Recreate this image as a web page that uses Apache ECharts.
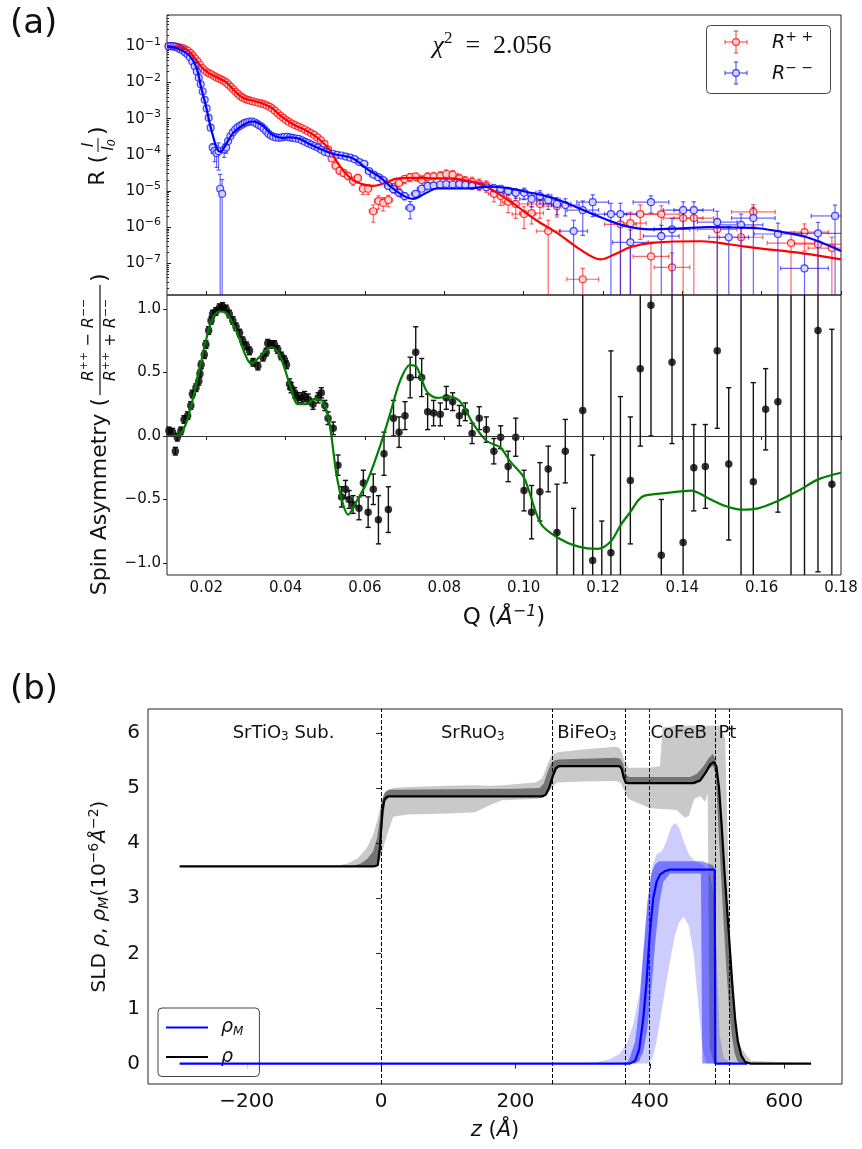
<!DOCTYPE html>
<html>
<head>
<meta charset="utf-8">
<title>PNR fit and SLD profile</title>
<script src="https://cdn.jsdelivr.net/npm/echarts@6.0.0/dist/echarts.min.js"></script>
<style>
  html, body { margin: 0; padding: 0; background: #fff; }
  #chart { width: 862px; height: 1149px; }
</style>
</head>
<body>
<div id="chart"></div>
<script>
const FONT = 'DejaVu Sans';
const SERIF = 'Liberation Serif';
const MINUS = '\u2212';

// ---------- axis ranges and ticks ----------
const qRange = [0.0101, 0.18];
const rRange = [1.33e-8, 0.733];
const saRange = [-1.095, 1.11];
const zRange = [-347, 686];
const sldRange = [-0.37, 6.435];
const qTicks = [0.02, 0.04, 0.06, 0.08, 0.10, 0.12, 0.14, 0.16, 0.18];
const rTicks = [1e-7, 1e-6, 1e-5, 1e-4, 1e-3, 1e-2, 1e-1];
const saTicks = [-1.0, -0.5, 0.0, 0.5, 1.0];
const zTicks = [-200, 0, 200, 400, 600];
const sldTicks = [0, 1, 2, 3, 4, 5, 6];

// ---------- (a) reflectivity: [Q, R, relative error, dQ] ----------
const rPlusPlus = [
  [0.0105,1.02e-1,0.03,0.0003],[0.0112,1.00e-1,0.03,0.0003],[0.0118,1.00e-1,0.03,0.0003],[0.0124,9.77e-2,0.03,0.0003],
  [0.0130,9.55e-2,0.03,0.0003],[0.0136,9.12e-2,0.03,0.0003],[0.0142,8.71e-2,0.03,0.0003],[0.0148,8.13e-2,0.03,0.0003],
  [0.0154,7.41e-2,0.03,0.0003],[0.0160,6.46e-2,0.03,0.0003],[0.0166,5.50e-2,0.03,0.0003],[0.0172,4.57e-2,0.03,0.0003],
  [0.0178,3.80e-2,0.03,0.0003],[0.0184,3.09e-2,0.03,0.0003],[0.0190,2.51e-2,0.03,0.0003],[0.0196,2.14e-2,0.03,0.0003],
  [0.0202,1.91e-2,0.04,0.0003],[0.0208,1.78e-2,0.04,0.0003],[0.0214,1.66e-2,0.04,0.0003],[0.0220,1.51e-2,0.04,0.0003],
  [0.0226,1.38e-2,0.04,0.0003],[0.0232,1.29e-2,0.04,0.0003],[0.0238,1.20e-2,0.04,0.0003],[0.0244,1.10e-2,0.04,0.0003],
  [0.0250,1.00e-2,0.04,0.0003],[0.0256,8.71e-3,0.05,0.0004],[0.0262,7.59e-3,0.05,0.0004],[0.0268,6.46e-3,0.05,0.0004],
  [0.0274,5.50e-3,0.05,0.0004],[0.0280,4.79e-3,0.05,0.0004],[0.0286,4.17e-3,0.05,0.0004],[0.0292,3.80e-3,0.05,0.0004],
  [0.0298,3.47e-3,0.05,0.0004],[0.0304,3.31e-3,0.05,0.0004],[0.0310,3.16e-3,0.05,0.0004],[0.0317,3.02e-3,0.06,0.0004],
  [0.0324,2.88e-3,0.06,0.0004],[0.0331,2.75e-3,0.06,0.0004],[0.0338,2.63e-3,0.06,0.0004],[0.0345,2.51e-3,0.06,0.0004],
  [0.0352,2.34e-3,0.06,0.0005],[0.0359,2.14e-3,0.06,0.0005],[0.0366,1.91e-3,0.06,0.0005],[0.0373,1.66e-3,0.07,0.0005],
  [0.0380,1.41e-3,0.07,0.0005],[0.0387,1.20e-3,0.07,0.0005],[0.0394,1.05e-3,0.07,0.0005],[0.0401,9.12e-4,0.08,0.0005],
  [0.0408,8.13e-4,0.08,0.0005],[0.0416,7.24e-4,0.08,0.0005],[0.0424,6.61e-4,0.08,0.0006],[0.0432,6.03e-4,0.09,0.0006],
  [0.0440,5.50e-4,0.09,0.0006],[0.0448,5.01e-4,0.09,0.0006],[0.0456,4.47e-4,0.10,0.0006],[0.0464,3.98e-4,0.10,0.0006],
  [0.0472,3.55e-4,0.10,0.0006],[0.0480,3.02e-4,0.11,0.0007],[0.0489,2.51e-4,0.11,0.0007],[0.0498,2.00e-4,0.12,0.0007],
  [0.0507,1.41e-4,0.13,0.0007],[0.0516,7.94e-5,0.15,0.0007],[0.0526,5.01e-5,0.18,0.0008],[0.0536,3.63e-5,0.20,0.0008],
  [0.0546,3.16e-5,0.20,0.0008],[0.0557,2.63e-5,0.22,0.0008],[0.0570,1.91e-5,0.25,0.0009],[0.0582,2.29e-5,0.25,0.0009],
  [0.0595,1.15e-5,0.30,0.0009],[0.0608,1.15e-5,0.30,0.0009],[0.0621,2.75e-6,0.50,0.0010],[0.0634,5.25e-6,0.40,0.0010],
  [0.0646,4.68e-6,0.40,0.0010],[0.0659,5.62e-6,0.35,0.0010],[0.0672,1.26e-5,0.30,0.0010],[0.0686,1.66e-5,0.30,0.0010],
  [0.0700,2.14e-5,0.25,0.0011],[0.0714,2.40e-5,0.25,0.0011],[0.0728,2.51e-5,0.25,0.0011],[0.0743,2.00e-5,0.30,0.0011],
  [0.0758,2.45e-5,0.30,0.0012],[0.0773,2.51e-5,0.30,0.0012],[0.0790,2.63e-5,0.30,0.0012],[0.0805,2.95e-5,0.30,0.0012],
  [0.0821,2.82e-5,0.30,0.0013],[0.0838,2.24e-5,0.30,0.0013],[0.0853,1.91e-5,0.30,0.0013],[0.0870,1.78e-5,0.35,0.0013],
  [0.0888,1.58e-5,0.35,0.0014],[0.0906,1.41e-5,0.35,0.0014],[0.0925,8.32e-6,0.40,0.0014],[0.0942,7.24e-6,0.45,0.0015],
  [0.0961,5.01e-6,0.50,0.0015],
  [0.0980,4.37e-6,0.6,0.003],[0.1001,2.29e-6,0.6,0.003],[0.1020,2.45e-6,0.5,0.003],[0.1041,4.37e-6,0.6,0.003],
  [0.1062,7.76e-7,1.0,0.003],[0.1084,3.80e-6,0.5,0.0035],[0.1149,3.63e-8,1.0,0.004],[0.1244,1.20e-6,1.0,0.004],
  [0.1269,1.29e-6,1.0,0.004],[0.1294,2.29e-6,0.8,0.0045],[0.1321,1.55e-7,1.5,0.0045],[0.1347,2.29e-6,0.7,0.0045],
  [0.1374,7.76e-8,1.5,0.0045],[0.1402,1.78e-6,1.0,0.005],[0.1429,1.78e-6,1.0,0.005],[0.1488,8.71e-7,1.0,0.005],
  [0.1548,5.25e-7,1.2,0.0055],[0.1579,2.63e-6,0.6,0.0055],[0.1674,3.63e-7,1.0,0.006],[0.1708,7.24e-7,0.7,0.006],
  [0.1742,3.39e-7,1.0,0.006],[0.1777,2.63e-7,1.0,0.006]
];

const rMinusMinus = [
  [0.0105,1.00e-1,0.03,0.0003],[0.0111,1.02e-1,0.03,0.0003],[0.0117,1.00e-1,0.03,0.0003],[0.0123,9.55e-2,0.03,0.0003],
  [0.0129,8.91e-2,0.03,0.0003],[0.0135,8.32e-2,0.03,0.0003],[0.0141,7.59e-2,0.03,0.0003],[0.0147,6.76e-2,0.03,0.0003],
  [0.0153,6.03e-2,0.03,0.0003],[0.0159,5.01e-2,0.03,0.0003],[0.0165,3.80e-2,0.03,0.0003],[0.0171,2.82e-2,0.03,0.0003],
  [0.0176,2.00e-2,0.03,0.0003],[0.0181,1.35e-2,0.04,0.0003],[0.0186,8.91e-3,0.04,0.0003],[0.0191,5.62e-3,0.05,0.0003],
  [0.0196,3.31e-3,0.05,0.0003],[0.0201,1.91e-3,0.06,0.0003],[0.0206,1.05e-3,0.08,0.0003],[0.0211,5.62e-4,0.10,0.0003],
  [0.0216,1.58e-4,0.30,0.0003],[0.0221,1.29e-4,0.50,0.0003],[0.0226,1.12e-4,0.60,0.0003],[0.0231,1.26e-4,0.70,0.0003],
  [0.0235,1.15e-5,1.50,0.0003],[0.0240,8.32e-6,1.50,0.0003],[0.0245,1.41e-4,0.40,0.0003],[0.0250,1.58e-4,0.30,0.0003],
  [0.0255,2.40e-4,0.15,0.0004],[0.0261,3.31e-4,0.10,0.0004],[0.0267,4.17e-4,0.08,0.0004],[0.0273,5.01e-4,0.07,0.0004],
  [0.0279,5.75e-4,0.06,0.0004],[0.0285,6.31e-4,0.06,0.0004],[0.0291,6.92e-4,0.06,0.0004],[0.0297,7.59e-4,0.06,0.0004],
  [0.0303,7.94e-4,0.06,0.0004],[0.0309,8.32e-4,0.06,0.0004],[0.0315,8.32e-4,0.06,0.0004],[0.0321,7.94e-4,0.06,0.0004],
  [0.0327,7.24e-4,0.06,0.0004],[0.0333,6.61e-4,0.06,0.0004],[0.0339,6.03e-4,0.06,0.0004],[0.0345,5.25e-4,0.07,0.0005],
  [0.0351,4.47e-4,0.07,0.0005],[0.0357,3.80e-4,0.07,0.0005],[0.0363,3.39e-4,0.07,0.0005],[0.0369,3.16e-4,0.07,0.0005],
  [0.0376,3.02e-4,0.07,0.0005],[0.0383,2.95e-4,0.07,0.0005],[0.0390,3.02e-4,0.07,0.0005],[0.0397,3.16e-4,0.07,0.0005],
  [0.0404,3.16e-4,0.07,0.0005],[0.0411,3.02e-4,0.07,0.0005],[0.0418,2.95e-4,0.08,0.0006],[0.0425,2.82e-4,0.08,0.0006],
  [0.0433,2.75e-4,0.08,0.0006],[0.0441,2.51e-4,0.08,0.0006],[0.0449,2.29e-4,0.08,0.0006],[0.0457,2.09e-4,0.08,0.0006],
  [0.0465,1.91e-4,0.09,0.0006],[0.0473,1.74e-4,0.09,0.0006],[0.0481,1.58e-4,0.09,0.0007],[0.0490,1.38e-4,0.10,0.0007],
  [0.0499,1.20e-4,0.10,0.0007],[0.0508,1.12e-4,0.10,0.0007],[0.0519,1.07e-4,0.10,0.0007],[0.0530,1.00e-4,0.10,0.0008],
  [0.0541,9.55e-5,0.10,0.0008],[0.0552,8.91e-5,0.10,0.0008],[0.0563,8.32e-5,0.11,0.0008],[0.0574,7.59e-5,0.11,0.0009],
  [0.0586,6.31e-5,0.12,0.0009],[0.0598,5.62e-5,0.12,0.0009],[0.0610,3.55e-5,0.13,0.0009],[0.0622,2.82e-5,0.14,0.0010],
  [0.0634,2.40e-5,0.15,0.0010],[0.0646,2.00e-5,0.15,0.0010],[0.0659,1.38e-5,0.18,0.0010],[0.0672,1.12e-5,0.20,0.0010],
  [0.0686,8.91e-6,0.20,0.0010],[0.0700,7.24e-6,0.22,0.0011],[0.0714,3.39e-6,0.50,0.0011],[0.0728,8.32e-6,0.20,0.0011],
  [0.0743,1.15e-5,0.15,0.0011],[0.0758,1.38e-5,0.15,0.0012],[0.0773,1.41e-5,0.15,0.0012],[0.0790,1.51e-5,0.15,0.0012],
  [0.0805,1.55e-5,0.15,0.0012],[0.0821,1.51e-5,0.15,0.0013],[0.0838,1.55e-5,0.15,0.0013],[0.0853,1.48e-5,0.15,0.0013],
  [0.0870,1.38e-5,0.15,0.0013],[0.0888,1.38e-5,0.17,0.0014],[0.0906,1.26e-5,0.18,0.0014],[0.0925,1.20e-5,0.20,0.0014],
  [0.0942,1.15e-5,0.20,0.0015],[0.0961,1.00e-5,0.22,0.0015],
  [0.0980,8.91e-6,0.30,0.003],[0.1001,8.91e-6,0.35,0.003],[0.1020,6.03e-6,0.40,0.003],[0.1041,7.24e-6,0.40,0.003],
  [0.1062,5.62e-6,0.45,0.003],[0.1084,4.37e-6,0.50,0.0035],[0.1105,4.07e-6,0.50,0.0035],[0.1126,7.76e-7,1.0,0.0035],
  [0.1149,2.95e-6,0.80,0.004],[0.1174,4.90e-6,0.60,0.004],[0.1220,2.29e-6,1.0,0.004],[0.1244,2.29e-6,1.0,0.004],
  [0.1269,3.80e-7,1.2,0.0045],[0.1321,4.90e-6,0.50,0.0045],[0.1347,5.62e-7,1.0,0.0045],[0.1374,8.71e-7,1.0,0.0045],
  [0.1402,2.95e-6,0.70,0.005],[0.1429,2.95e-6,0.70,0.005],[0.1488,1.38e-6,1.0,0.005],[0.1517,5.25e-7,1.0,0.005],
  [0.1548,1.15e-6,1.0,0.0055],[0.1579,1.78e-6,1.0,0.0055],[0.1641,6.46e-7,1.0,0.006],[0.1708,7.24e-8,1.5,0.006],
  [0.1742,6.76e-7,1.0,0.006],[0.1785,2.04e-6,1.0,0.006]
];

// model reflectivity curves [Q, R]
const fitPlusPlus = [
  [0.0101,1.00e-1],[0.0124,9.77e-2],[0.0145,8.51e-2],[0.0157,7.08e-2],[0.0175,4.17e-2],[0.0190,2.51e-2],
  [0.0208,1.78e-2],[0.0225,1.41e-2],[0.0240,1.17e-2],[0.0251,1.00e-2],[0.0266,6.76e-3],[0.0291,3.80e-3],
  [0.0316,3.16e-3],[0.0342,2.63e-3],[0.0367,1.91e-3],[0.0385,1.26e-3],[0.0410,7.94e-4],[0.0430,6.03e-4],
  [0.0450,4.79e-4],[0.0470,3.55e-4],[0.0490,2.40e-4],[0.0510,1.41e-4],[0.0530,6.31e-5],[0.0550,3.16e-5],
  [0.0570,2.00e-5],[0.0590,1.58e-5],[0.0620,1.38e-5],[0.0650,1.66e-5],[0.0680,2.19e-5],[0.0720,2.29e-5],
  [0.0770,2.24e-5],[0.0820,2.19e-5],[0.0860,1.91e-5],[0.0900,1.41e-5],[0.0940,7.94e-6],[0.0975,4.37e-6],
  [0.1035,1.48e-6],[0.1086,6.76e-7],[0.1140,2.51e-7],[0.1195,1.29e-7],[0.1230,1.78e-7],[0.1270,2.82e-7],
  [0.1330,3.72e-7],[0.1448,4.07e-7],[0.1520,3.31e-7],[0.1590,2.63e-7],[0.1700,1.91e-7],[0.1800,1.29e-7]
];
const fitMinusMinus = [
  [0.0101,1.00e-1],[0.0132,8.32e-2],[0.0157,5.62e-2],[0.0175,2.63e-2],[0.0187,7.24e-3],[0.0200,2.04e-3],
  [0.0208,7.94e-4],[0.0220,2.51e-4],[0.0228,1.41e-4],[0.0236,1.20e-4],[0.0245,1.58e-4],[0.0266,3.80e-4],
  [0.0291,6.46e-4],[0.0316,8.32e-4],[0.0342,6.46e-4],[0.0367,3.55e-4],[0.0390,2.95e-4],[0.0410,3.02e-4],
  [0.0435,2.75e-4],[0.0460,2.00e-4],[0.0480,1.58e-4],[0.0519,1.07e-4],[0.0570,7.94e-5],[0.0605,4.07e-5],
  [0.0638,2.40e-5],[0.0665,1.32e-5],[0.0700,7.08e-6],[0.0722,6.03e-6],[0.0750,8.32e-6],[0.0782,1.17e-5],
  [0.0850,1.17e-5],[0.0916,1.32e-5],[0.0960,1.20e-5],[0.1018,8.91e-6],[0.1060,7.08e-6],[0.1100,5.01e-6],
  [0.1170,2.40e-6],[0.1250,1.12e-6],[0.1322,8.71e-7],[0.1400,9.33e-7],[0.1466,1.00e-6],[0.1530,9.77e-7],
  [0.1590,9.33e-7],[0.1660,7.08e-7],[0.1720,5.01e-7],[0.1800,2.19e-7]
];

// ---------- spin asymmetry: [Q, SA, error] ----------
const spinAsym = [
  [0.0106,0.04,0.03],[0.0115,0.03,0.03],[0.0122,-0.12,0.03],[0.0127,-0.01,0.03],[0.0136,0.04,0.03],
  [0.0144,0.13,0.03],[0.0153,0.16,0.03],[0.0161,0.24,0.03],[0.0165,0.33,0.03],[0.0174,0.38,0.03],
  [0.0181,0.43,0.03],[0.0184,0.49,0.03],[0.0187,0.56,0.03],[0.0195,0.64,0.03],[0.0199,0.72,0.03],
  [0.0206,0.83,0.03],[0.0212,0.91,0.03],[0.0216,0.96,0.03],[0.0224,0.98,0.03],[0.0233,1.01,0.03],
  [0.0241,1.02,0.03],[0.0250,1.00,0.03],[0.0258,0.96,0.03],[0.0267,0.91,0.03],[0.0275,0.86,0.03],
  [0.0284,0.81,0.03],[0.0292,0.75,0.03],[0.0301,0.71,0.03],[0.0309,0.67,0.03],[0.0318,0.58,0.03],
  [0.0330,0.55,0.03],[0.0343,0.62,0.03],[0.0351,0.66,0.03],[0.0355,0.73,0.03],[0.0364,0.72,0.03],
  [0.0372,0.72,0.03],[0.0380,0.68,0.03],[0.0389,0.63,0.03],[0.0397,0.60,0.03],[0.0402,0.56,0.03],
  [0.0410,0.41,0.04],[0.0414,0.38,0.04],[0.0423,0.34,0.04],[0.0431,0.30,0.04],[0.0440,0.30,0.04],
  [0.0448,0.31,0.04],[0.0457,0.29,0.04],[0.0469,0.25,0.04],[0.0482,0.30,0.04],[0.0490,0.34,0.04],
  [0.0499,0.24,0.04],[0.0507,0.14,0.05],[0.0520,0.06,0.05],[0.0532,-0.23,0.08],[0.0541,-0.48,0.08],
  [0.0551,-0.42,0.07],[0.0560,-0.50,0.07],[0.0570,-0.54,0.07],[0.0585,-0.57,0.09],[0.0596,-0.37,0.10],
  [0.0608,-0.60,0.12],[0.0621,-0.42,0.12],[0.0634,-0.66,0.19],[0.0648,-0.14,0.17],[0.0659,-0.58,0.18],
  [0.0672,0.14,0.14],[0.0686,0.03,0.12],[0.0701,0.16,0.11],[0.0714,0.46,0.16],[0.0728,0.66,0.20],
  [0.0743,0.46,0.15],[0.0758,0.19,0.14],[0.0773,0.18,0.10],[0.0790,0.17,0.09],[0.0805,0.30,0.09],
  [0.0821,0.27,0.07],[0.0838,0.16,0.08],[0.0853,0.19,0.07],[0.0870,0.02,0.08],[0.0888,0.14,0.09],
  [0.0906,0.05,0.10],[0.0925,-0.12,0.10],[0.0942,-0.01,0.09],[0.0961,-0.24,0.12],[0.0980,-0.01,0.15],
  [0.1001,-0.43,0.16],[0.1020,-0.60,0.21],[0.1041,-0.44,0.23],[0.1062,-0.26,0.18],[0.1084,-0.76,0.38],
  [0.1105,-0.12,0.25],[0.1126,-1.25,0.68],[0.1149,0.20,3.0],[0.1174,-0.98,0.83],[0.1197,-1.30,0.63],
  [0.1220,-0.92,1.59],[0.1244,-1.40,1.71],[0.1269,-0.35,0.50],[0.1294,0.53,0.61],[0.1321,1.03,1.03],
  [0.1347,-0.94,0.44],[0.1374,0.58,0.64],[0.1402,-0.84,2.0],[0.1429,-0.25,0.34],[0.1458,-0.24,0.33],
  [0.1488,0.67,0.61],[0.1517,-0.22,0.60],[0.1548,-1.50,3.0],[0.1579,-0.36,0.78],[0.1610,0.21,0.32],
  [0.1641,0.27,0.87],[0.1674,1.50,3.0],[0.1708,-1.50,3.0],[0.1742,0.83,1.90],[0.1777,-0.38,1.22]
];
const spinAsymFit = [
  [0.0101,0.0],[0.0106,0.0],[0.0131,0.01],[0.0148,0.09],[0.0165,0.28],[0.0182,0.51],[0.0199,0.75],
  [0.0216,0.93],[0.0233,0.98],[0.0250,0.97],[0.0275,0.83],[0.0301,0.62],[0.0313,0.57],[0.0334,0.62],
  [0.0364,0.70],[0.0385,0.64],[0.0410,0.41],[0.0431,0.25],[0.0452,0.25],[0.0473,0.29],[0.0494,0.27],
  [0.0511,0.09],[0.0528,-0.30],[0.0545,-0.54],[0.0558,-0.62],[0.0574,-0.54],[0.0604,-0.37],[0.0637,-0.09],
  [0.0663,0.17],[0.0688,0.43],[0.0714,0.56],[0.0731,0.54],[0.0756,0.35],[0.0781,0.30],[0.0815,0.31],
  [0.0840,0.27],[0.0874,0.09],[0.0907,-0.04],[0.0941,-0.09],[0.0966,-0.20],[0.1001,-0.33],[0.1043,-0.69],
  [0.1085,-0.80],[0.1136,-0.87],[0.1187,-0.89],[0.1220,-0.83],[0.1245,-0.70],[0.1271,-0.59],[0.1288,-0.51],
  [0.1305,-0.47],[0.1356,-0.45],[0.1423,-0.43],[0.1465,-0.49],[0.1507,-0.55],[0.1549,-0.58],[0.1591,-0.57],
  [0.1642,-0.51],[0.1693,-0.43],[0.1744,-0.34],[0.1800,-0.29]
];

// ---------- (b) SLD profiles: [z, value] and bands [z, low, high] ----------
const rhoProfile = [
  [-300,3.58],[-10,3.58],[-5,3.6],[-2,3.9],[0,4.25],[2,4.6],[5,4.8],[10,4.85],[240,4.85],[245,4.88],
  [250,5.0],[255,5.2],[260,5.36],[265,5.4],[355,5.4],[358,5.35],[361,5.2],[364,5.1],[368,5.09],[465,5.09],
  [475,5.14],[483,5.28],[490,5.43],[495,5.47],[499,5.4],[503,5.0],[507,4.3],[511,3.5],[515,2.8],[519,2.1],
  [523,1.4],[527,0.8],[531,0.4],[536,0.15],[542,0.03],[550,0],[640,0]
];
const rhoBand68 = [
  [-300,3.58,3.58],[-45,3.58,3.58],[-30,3.58,3.63],[-20,3.58,3.72],[-12,3.58,3.85],[-6,3.6,4.1],
  [-2,3.75,4.45],[0,4.0,4.7],[3,4.45,4.85],[6,4.75,4.93],[12,4.84,4.97],[100,4.85,4.98],[200,4.85,4.99],
  [236,4.85,5.0],[242,4.86,5.08],[248,4.92,5.3],[253,5.05,5.45],[258,5.25,5.5],[264,5.38,5.52],[300,5.40,5.53],
  [350,5.40,5.55],[356,5.36,5.53],[360,5.18,5.45],[364,5.09,5.25],[369,5.08,5.2],[460,5.08,5.2],[470,5.1,5.26],
  [480,5.2,5.4],[488,5.35,5.55],[494,5.4,5.62],[498,5.25,5.5],[502,4.3,5.1],[506,3.4,4.4],[510,2.5,3.6],
  [514,1.7,2.9],[518,1.0,2.2],[522,0.5,1.5],[526,0.2,0.9],[530,0.05,0.45],[535,0,0.17],[542,0,0.04],
  [550,0,0],[640,0,0]
];
const rhoBand95 = [
  [-300,3.58,3.58],[-70,3.58,3.58],[-50,3.58,3.63],[-35,3.58,3.72],[-22,3.58,3.9],[-12,3.58,4.15],
  [-5,3.6,4.45],[0,3.75,4.7],[5,4.0,4.9],[10,4.2,4.97],[18,4.48,5.0],[40,4.52,5.02],[100,4.54,5.04],
  [140,4.56,5.05],[160,4.68,5.04],[180,4.78,5.05],[230,4.8,5.1],[240,4.82,5.18],[248,4.9,5.45],[254,5.0,5.6],
  [262,5.1,5.65],[300,5.12,5.7],[350,5.13,5.75],[356,5.1,5.72],[362,4.95,5.5],[368,4.8,5.37],[400,4.64,5.37],
  [415,4.62,5.4],[419,4.62,6.1],[440,4.6,6.13],[452,4.46,6.13],[458,4.5,6.13],[466,4.8,6.13],[475,4.85,6.13],
  [482,4.75,6.13],[486,4.9,6.13],[489,0.3,6.13],[495,0,6.13],[505,0,6.13],[512,0,5.9],[516,0,4.0],
  [520,0,2.0],[526,0,0.8],[535,0,0.3],[550,0,0.05],[640,0,0]
];
const rhoMProfile = [
  [-300,0],[370,0],[378,0.05],[384,0.25],[390,0.8],[395,1.47],[400,2.37],[405,3.0],[410,3.3],[415,3.43],
  [422,3.49],[430,3.52],[496.5,3.52],[497.5,0],[545,0]
];
const rhoMBand68 = [
  [365,0,0],[370,0,0.1],[378,0,0.4],[384,0.05,1.0],[390,0.2,2.0],[396,0.6,2.9],[402,1.3,3.45],[408,2.2,3.62],
  [414,2.9,3.67],[420,3.3,3.67],[430,3.45,3.67],[476,3.45,3.67],[478,0,3.67],[494,0,3.6],[497,0,3.5],[498,0,0]
];
const rhoMBand95 = [
  [-300,0,0],[300,0,0],[320,0,0.02],[340,0,0.08],[355,0,0.18],[365,0,0.35],[375,0,0.7],[385,0,1.3],
  [392,0,2.2],[398,0,3.0],[404,0.1,3.6],[410,0.4,3.8],[418,1.0,3.85],[425,1.5,4.05],[432,2.0,4.3],
  [437,2.3,4.37],[443,2.55,4.3],[450,2.67,4.05],[458,2.5,3.8],[465,2.0,3.7],[472,1.1,3.65],[478,0.3,3.62],
  [484,0,3.55],[490,0,3.4],[496,0,3.0],[500,0,1.8],[504,0,0.5],[510,0,0.1],[520,0,0.02],[545,0,0]
];
const layerEdges = [0, 255, 363, 498, 518];
const magneticEdge = [399];
const layerNames = [
  { text: 'SrTiO{d|3} Sub.', z: -221 },
  { text: 'SrRuO{d|3}', z: 89 },
  { text: 'BiFeO{d|3}', z: 262 },
  { text: 'CoFeB', z: 401 },
  { text: 'Pt', z: 502 }
];

// ---------- helpers ----------
const supStyle = (size) => ({ fontSize: size, fontFamily: FONT, padding: [0, 0, Math.round(size * 0.8), 0] });
const subStyle = (size) => ({ fontSize: size, fontFamily: FONT, padding: [Math.round(size * 0.7), 0, 0, 0] });

function toErrorRows(rows) {
  return rows.map(([q, r, e, dq]) => [q, r, Math.max(r * (1 - e), 1e-14), r * (1 + e), q - dq, q + dq]);
}

function makeErrorBar(color, width, cap) {
  return function (params, api) {
    const cs = params.coordSys;
    const top = cs.y, bottom = cs.y + cs.height, left = cs.x, right = cs.x + cs.width;
    const x = api.value(0), y = api.value(1);
    const c = api.coord([x, y]);
    const lo = api.coord([x, api.value(2)]);
    const hi = api.coord([x, api.value(3)]);
    const xl = api.coord([api.value(4), y]);
    const xh = api.coord([api.value(5), y]);
    const st = { stroke: color, lineWidth: width };
    const kids = [];
    const inY = (v) => v >= top && v <= bottom;
    const inX = (v) => v >= left && v <= right;
    if (inX(c[0])) {
      const ya = Math.max(top, Math.min(bottom, hi[1]));
      const yb = Math.max(top, Math.min(bottom, lo[1]));
      if (yb - ya > 0.2) {
        kids.push({ type: 'line', shape: { x1: c[0], y1: ya, x2: c[0], y2: yb }, style: st });
      }
      if (inY(hi[1])) kids.push({ type: 'line', shape: { x1: c[0] - cap, y1: hi[1], x2: c[0] + cap, y2: hi[1] }, style: st });
      if (inY(lo[1])) kids.push({ type: 'line', shape: { x1: c[0] - cap, y1: lo[1], x2: c[0] + cap, y2: lo[1] }, style: st });
    }
    if (inY(c[1]) && xh[0] - xl[0] > 0.5) {
      const xa = Math.max(left, xl[0]), xb = Math.min(right, xh[0]);
      kids.push({ type: 'line', shape: { x1: xa, y1: c[1], x2: xb, y2: c[1] }, style: st });
      if (inX(xl[0])) kids.push({ type: 'line', shape: { x1: xl[0], y1: c[1] - cap, x2: xl[0], y2: c[1] + cap }, style: st });
      if (inX(xh[0])) kids.push({ type: 'line', shape: { x1: xh[0], y1: c[1] - cap, x2: xh[0], y2: c[1] + cap }, style: st });
    }
    return { type: 'group', children: kids };
  };
}

function bandSeries(rows, color, z) {
  return {
    type: 'custom', xAxisIndex: 2, yAxisIndex: 3, silent: true, z: z,
    data: [[rows[0][0], rows[0][1]]],
    encode: { x: 0, y: 1 },
    renderItem: function (params, api) {
      const upper = rows.map(r => api.coord([r[0], r[2]]));
      const lower = rows.slice().reverse().map(r => api.coord([r[0], r[1]]));
      return { type: 'polygon', shape: { points: upper.concat(lower) }, style: { fill: color } };
    }
  };
}

const logLabel = (v) => {
  const e = Math.round(Math.log10(v));
  return '{b|10}{s|' + (e < 0 ? MINUS : '') + Math.abs(e) + '}';
};
const signed = (v, d) => (v < 0 ? MINUS : '') + Math.abs(v).toFixed(d);

const minorDecadeTicks = [];
for (let n = -9; n <= 0; n++) {
  for (let k = 2; k <= 9; k++) minorDecadeTicks.push(k * Math.pow(10, n));
}

const frame = { show: true, borderColor: '#222', borderWidth: 1, backgroundColor: 'transparent' };

// ---------- chart ----------
const chart = echarts.init(document.getElementById('chart'), null, { renderer: 'canvas' });

const RED_EDGE = 'rgba(255,0,0,0.75)', RED_FACE = '#ffd2d2', RED_BAR = 'rgba(255,0,0,0.6)';
const BLUE_EDGE = 'rgba(0,0,255,0.7)', BLUE_FACE = '#d2d2ff', BLUE_BAR = 'rgba(0,0,255,0.6)';

const option = {
  animation: false,
  backgroundColor: '#fff',
  textStyle: { fontFamily: FONT },
  grid: [
    Object.assign({ left: 167, top: 15, width: 674, height: 280 }, frame),
    Object.assign({ left: 167, top: 295, width: 674, height: 280 }, frame),
    Object.assign({ left: 148, top: 709, width: 694, height: 375 }, frame)
  ],
  xAxis: [
    {
      type: 'value', gridIndex: 0, min: qRange[0], max: qRange[1],
      axisLine: { show: false }, splitLine: { show: false },
      axisTick: { show: true, inside: true, length: 4, customValues: qTicks, lineStyle: { color: '#222' } },
      axisLabel: { show: false }
    },
    {
      type: 'value', gridIndex: 1, min: qRange[0], max: qRange[1],
      axisLine: { show: false }, splitLine: { show: false },
      axisTick: { show: true, length: 4, customValues: qTicks, lineStyle: { color: '#222' } },
      axisLabel: { customValues: qTicks, formatter: v => v.toFixed(2), fontSize: 15, color: '#111', margin: 6, fontFamily: FONT },
      name: '{n|Q (}{i|Å}{s|' + MINUS + '1}{n|)}', nameLocation: 'middle', nameGap: 29,
      nameTextStyle: {
        rich: {
          n: { fontSize: 23, fontFamily: FONT, color: '#111' },
          i: { fontSize: 23, fontFamily: FONT, fontStyle: 'italic', color: '#111' },
          s: Object.assign(supStyle(16), { fontStyle: 'italic', color: '#111' })
        }
      }
    },
    {
      type: 'value', gridIndex: 2, min: zRange[0], max: zRange[1],
      axisLine: { show: false }, splitLine: { show: false },
      axisTick: { show: true, length: 5, customValues: zTicks, lineStyle: { color: '#222' } },
      axisLabel: { customValues: zTicks, formatter: v => signed(v, 0), fontSize: 20, color: '#111', margin: 8, fontFamily: FONT },
      name: '{i|z}{n| (}{i|Å}{n|)}', nameLocation: 'middle', nameGap: 36,
      nameTextStyle: {
        rich: {
          n: { fontSize: 21, fontFamily: FONT, color: '#111' },
          i: { fontSize: 21, fontFamily: FONT, fontStyle: 'italic', color: '#111' }
        }
      }
    }
  ],
  yAxis: [
    {
      type: 'log', gridIndex: 0, min: rRange[0], max: rRange[1], logBase: 10,
      axisLine: { show: false }, splitLine: { show: false },
      axisTick: { show: true, inside: true, length: 4, customValues: rTicks, lineStyle: { color: '#222' } },
      axisLabel: {
        customValues: rTicks, formatter: logLabel, margin: 6, color: '#111',
        rich: { b: { fontSize: 15, fontFamily: FONT, color: '#111' }, s: Object.assign(supStyle(11), { color: '#111' }) }
      }
    },
    {
      type: 'log', gridIndex: 0, min: rRange[0], max: rRange[1], logBase: 10, position: 'left',
      axisLine: { show: false }, splitLine: { show: false },
      axisTick: { show: true, inside: true, length: 2, customValues: minorDecadeTicks, lineStyle: { color: '#222' } },
      axisLabel: { show: false }
    },
    {
      type: 'value', gridIndex: 1, min: saRange[0], max: saRange[1],
      axisLine: { show: false }, splitLine: { show: false },
      axisTick: { show: true, length: 4, customValues: saTicks, lineStyle: { color: '#222' } },
      axisLabel: { customValues: saTicks, formatter: v => signed(v, 1), fontSize: 15, color: '#111', margin: 6, fontFamily: FONT }
    },
    {
      type: 'value', gridIndex: 2, min: sldRange[0], max: sldRange[1],
      axisLine: { show: false }, splitLine: { show: false },
      axisTick: { show: true, length: 5, customValues: sldTicks, lineStyle: { color: '#222' } },
      axisLabel: { customValues: sldTicks, formatter: v => String(v), fontSize: 20, color: '#111', margin: 8, fontFamily: FONT },
      name: '{n|SLD }{i|ρ}{n|, }{i|ρ}{d|M}{n|(10}{s|' + MINUS + '6}{i|Å}{s|' + MINUS + '2}{n|)}',
      nameLocation: 'middle', nameGap: 36, nameRotate: 90,
      nameTextStyle: {
        rich: {
          n: { fontSize: 20, fontFamily: FONT, color: '#111' },
          i: { fontSize: 20, fontFamily: FONT, fontStyle: 'italic', color: '#111' },
          s: Object.assign(supStyle(14), { color: '#111' }),
          d: Object.assign(subStyle(14), { fontStyle: 'italic', color: '#111' })
        }
      }
    }
  ],
  legend: {
    data: ['rhoM', 'rho'], orient: 'vertical', left: 158, top: 1008,
    icon: 'rect', itemWidth: 42, itemHeight: 2.2, itemGap: 10,
    padding: [10, 16, 10, 8],
    backgroundColor: 'rgba(255,255,255,0.8)', borderColor: '#444', borderWidth: 1, borderRadius: 4,
    formatter: (name) => name === 'rhoM' ? '{i|ρ}{d|M}' : '{i|ρ}',
    textStyle: {
      padding: [0, 0, 0, 8],
      rich: {
        i: { fontSize: 19, fontFamily: FONT, fontStyle: 'italic', color: '#111', lineHeight: 24 },
        d: Object.assign(subStyle(12), { fontStyle: 'italic', color: '#111' })
      }
    },
    selectedMode: false
  },
  series: [
    // (a) reflectivity
    { type: 'custom', name: 'R++ err', xAxisIndex: 0, yAxisIndex: 0, z: 2, silent: true,
      data: toErrorRows(rPlusPlus), encode: { x: 0, y: 1 }, renderItem: makeErrorBar(RED_BAR, 1.2, 2.2) },
    { type: 'scatter', name: 'R++', xAxisIndex: 0, yAxisIndex: 0, z: 3, silent: true,
      data: rPlusPlus.map(r => [r[0], r[1]]), symbol: 'circle', symbolSize: 7,
      itemStyle: { color: RED_FACE, borderColor: RED_EDGE, borderWidth: 1.2, opacity: 1 } },
    { type: 'custom', name: 'R-- err', xAxisIndex: 0, yAxisIndex: 0, z: 4, silent: true,
      data: toErrorRows(rMinusMinus), encode: { x: 0, y: 1 }, renderItem: makeErrorBar(BLUE_BAR, 1.2, 2.2) },
    { type: 'scatter', name: 'R--', xAxisIndex: 0, yAxisIndex: 0, z: 5, silent: true,
      data: rMinusMinus.map(r => [r[0], r[1]]), symbol: 'circle', symbolSize: 7,
      itemStyle: { color: BLUE_FACE, borderColor: BLUE_EDGE, borderWidth: 1.2, opacity: 1 } },
    { type: 'line', name: 'R++ fit', xAxisIndex: 0, yAxisIndex: 0, z: 6, silent: true,
      data: fitPlusPlus, showSymbol: false, symbol: 'none', smooth: 0.35,
      lineStyle: { color: '#ff0000', width: 2.2 } },
    { type: 'line', name: 'R-- fit', xAxisIndex: 0, yAxisIndex: 0, z: 7, silent: true,
      data: fitMinusMinus, showSymbol: false, symbol: 'none', smooth: 0.35,
      lineStyle: { color: '#0000ff', width: 2.2 } },

    // spin asymmetry
    { type: 'custom', name: 'SA err', xAxisIndex: 1, yAxisIndex: 2, z: 2, silent: true,
      data: spinAsym.map(([q, s, e]) => [q, s, s - e, s + e, q, q]), encode: { x: 0, y: 1 },
      renderItem: makeErrorBar('#111', 1.4, 2.6) },
    { type: 'scatter', name: 'SA', xAxisIndex: 1, yAxisIndex: 2, z: 3, silent: true,
      data: spinAsym.map(r => [r[0], r[1]]), symbol: 'circle', symbolSize: 7.5,
      itemStyle: { color: '#000' } },
    { type: 'line', name: 'SA fit', xAxisIndex: 1, yAxisIndex: 2, z: 4, silent: true,
      data: spinAsymFit, showSymbol: false, symbol: 'none', smooth: 0.3,
      lineStyle: { color: '#008000', width: 2.2 },
      markLine: { silent: true, symbol: 'none', label: { show: false },
        lineStyle: { color: '#333', width: 1.2, type: 'solid' }, data: [{ yAxis: 0 }] } },

    // (b) SLD bands and profiles
    bandSeries(rhoMBand95, 'rgba(0,0,255,0.2)', 2),
    bandSeries(rhoMBand68, 'rgba(0,0,255,0.42)', 3),
    bandSeries(rhoBand95, 'rgba(0,0,0,0.21)', 4),
    bandSeries(rhoBand68, 'rgba(0,0,0,0.42)', 5),
    { type: 'line', name: 'rhoM', xAxisIndex: 2, yAxisIndex: 3, z: 6, silent: true,
      data: rhoMProfile, showSymbol: false, symbol: 'none', smooth: false,
      lineStyle: { color: '#0000ff', width: 2.2 }, itemStyle: { color: '#0000ff' },
      markLine: { silent: true, symbol: 'none', label: { show: false },
        lineStyle: { color: '#0000ff', width: 1, type: [4, 2] },
        data: magneticEdge.map(z => ({ xAxis: z })) } },
    { type: 'line', name: 'rho', xAxisIndex: 2, yAxisIndex: 3, z: 7, silent: true,
      data: rhoProfile, showSymbol: false, symbol: 'none', smooth: false,
      lineStyle: { color: '#000', width: 2.2 }, itemStyle: { color: '#000' },
      markLine: { silent: true, symbol: 'none', label: { show: false },
        lineStyle: { color: '#000', width: 1, type: [4, 2] },
        data: layerEdges.map(z => ({ xAxis: z })) } }
  ]
};

chart.setOption(option);

// ---------- annotations ----------
function txt(x, y, text, opts) {
  const o = opts || {};
  return {
    type: 'text', x: x, y: y, silent: true, z: 100,
    style: Object.assign({
      text: text, fontFamily: FONT, fontSize: 20, fill: '#111',
      align: o.align || 'left', verticalAlign: o.vAlign || 'middle',
      textAlign: o.align || 'left', textVerticalAlign: o.vAlign || 'middle'
    }, o.style || {})
  };
}
function hline(x1, x2, y, color, w) {
  return { type: 'line', silent: true, z: 101, shape: { x1: x1, y1: y, x2: x2, y2: y }, style: { stroke: color, lineWidth: w || 1 } };
}
function vline(x, y1, y2, color, w) {
  return { type: 'line', silent: true, z: 101, shape: { x1: x, y1: y1, x2: x, y2: y2 }, style: { stroke: color, lineWidth: w || 1 } };
}

// legend glyph for data with error bars
function errGlyph(cx, cy, bar, edge, face) {
  return [
    hline(cx - 11, cx + 11, cy, bar, 1.3),
    vline(cx, cy - 11, cy + 11, bar, 1.3),
    vline(cx - 11, cy - 2.2, cy + 2.2, bar, 1.3),
    vline(cx + 11, cy - 2.2, cy + 2.2, bar, 1.3),
    hline(cx - 2.2, cx + 2.2, cy - 11, bar, 1.3),
    hline(cx - 2.2, cx + 2.2, cy + 11, bar, 1.3),
    { type: 'circle', silent: true, z: 102, shape: { cx: cx, cy: cy, r: 3.4 }, style: { fill: face, stroke: edge, lineWidth: 1.2 } }
  ];
}

const graphics = [];
graphics.push(txt(10, 24, '(a)', { style: { fontSize: 34 } }));
graphics.push(txt(10, 690, '(b)', { style: { fontSize: 34 } }));

// chi-squared annotation
graphics.push(txt(492, 46, '{i|χ}{s|2}{n|  =  2.056}', {
  align: 'center',
  style: { rich: {
    n: { fontSize: 26, fontFamily: SERIF, color: '#111' },
    i: { fontSize: 26, fontFamily: SERIF, fontStyle: 'italic', color: '#111' },
    s: Object.assign(supStyle(17), { fontFamily: SERIF, color: '#111' })
  } }
}));

// legend of panel (a)
graphics.push({ type: 'rect', silent: true, z: 100, shape: { x: 706.5, y: 25.5, width: 124, height: 68, r: 4 },
  style: { fill: 'rgba(255,255,255,0.8)', stroke: '#444', lineWidth: 1 } });
errGlyph(736, 42, RED_BAR, RED_EDGE, RED_FACE).forEach(g => graphics.push(g));
errGlyph(736, 73, BLUE_BAR, BLUE_EDGE, BLUE_FACE).forEach(g => graphics.push(g));
const legRich = {
  i: { fontSize: 19, fontFamily: FONT, fontStyle: 'italic', color: '#111' },
  s: Object.assign(supStyle(14), { color: '#111' })
};
graphics.push(txt(772, 43, '{i|R}{s|+ +}', { style: { rich: legRich } }));
graphics.push(txt(772, 74, '{i|R}{s|' + MINUS + ' ' + MINUS + '}', { style: { rich: legRich } }));

// rotated title of the reflectivity axis: R (I / I0)
graphics.push({
  type: 'group', x: 98, y: 145, rotation: Math.PI / 2, silent: true, z: 100,
  children: [
    txt(-10, 0, 'R (', { align: 'right', style: { fontSize: 22 } }),
    txt(0, -1, '{i|I}', { align: 'center', vAlign: 'bottom', style: { rich: { i: { fontSize: 16, fontFamily: FONT, fontStyle: 'italic', color: '#111' } } } }),
    hline(-7, 7, 0, '#111', 1),
    txt(0, 1, '{i|I}{d|0}', { align: 'center', vAlign: 'top', style: { rich: {
      i: { fontSize: 16, fontFamily: FONT, fontStyle: 'italic', color: '#111' },
      d: Object.assign(subStyle(11), { color: '#111', fontStyle: 'italic' }) } } }),
    txt(10, 0, ')', { align: 'left', style: { fontSize: 22 } })
  ]
});

// rotated title of the spin-asymmetry axis
const fracRich = {
  n: { fontSize: 16, fontFamily: FONT, color: '#111' },
  i: { fontSize: 16, fontFamily: FONT, fontStyle: 'italic', color: '#111' },
  s: Object.assign(supStyle(11), { color: '#111' })
};
graphics.push({
  type: 'group', x: 100, y: 340, rotation: Math.PI / 2, silent: true, z: 100,
  children: [
    txt(-58, 0, 'Spin Asymmetry (', { align: 'right', style: { fontSize: 22 } }),
    txt(0, -1, '{i|R}{s|++}{n| ' + MINUS + ' }{i|R}{s|' + MINUS + MINUS + '}', { align: 'center', vAlign: 'bottom', style: { rich: fracRich } }),
    hline(-55, 55, 0, '#111', 1.2),
    txt(0, 1, '{i|R}{s|++}{n| + }{i|R}{s|' + MINUS + MINUS + '}', { align: 'center', vAlign: 'top', style: { rich: fracRich } }),
    txt(58, 0, ')', { align: 'left', style: { fontSize: 22 } })
  ]
});

// layer names along the top of panel (b)
const layerRich = {
  d: Object.assign(subStyle(12), { color: '#111' })
};
layerNames.forEach(l => {
  const p = chart.convertToPixel({ xAxisIndex: 2, yAxisIndex: 3 }, [l.z, 6]);
  graphics.push(txt(p[0], p[1], l.text, { style: { fontSize: 18, rich: layerRich } }));
});

chart.setOption({ graphic: { elements: graphics } });
</script>
</body>
</html>
